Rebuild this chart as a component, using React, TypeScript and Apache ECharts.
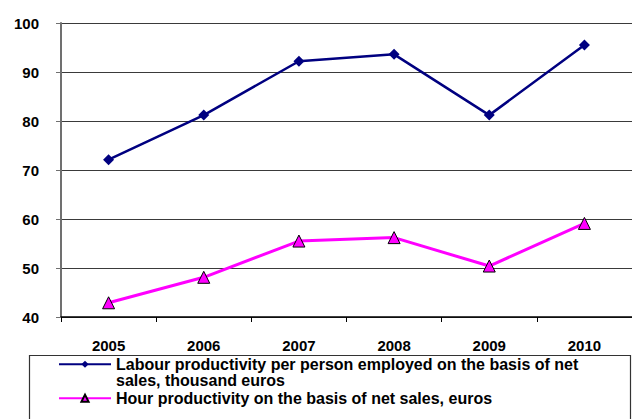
import React, { useEffect, useRef } from "react";
import * as echarts from "echarts";

const years = ["2005", "2006", "2007", "2008", "2009", "2010"];
const labour = [72.1, 81.2, 92.2, 93.6, 81.2, 95.5];
const hour = [42.9, 48.1, 55.5, 56.2, 50.4, 59.1];
const yTicks = { min: 40, max: 100, interval: 10 };
const labourName = "Labour productivity per person employed on the basis of net sales, thousand euros";
const hourName = "Hour productivity on the basis of net sales, euros";

const FONT = "Arial, 'Liberation Sans', sans-serif";

export default function App() {
  const ref = useRef<HTMLDivElement>(null);
  useEffect(() => {
    if (!ref.current) return;
    const chart = echarts.init(ref.current, null, { renderer: "svg" });
    chart.setOption({
      animation: false,
      backgroundColor: "#ffffff",
      grid: { left: 61, top: 23, width: 582, height: 294, containLabel: false },
      xAxis: {
        type: "category",
        data: years,
        boundaryGap: true,
        axisLine: { show: true, lineStyle: { color: "#000", width: 1.5 } },
        axisTick: { show: true, length: 5, lineStyle: { color: "#000" } },
        axisLabel: {
          margin: 22,
          color: "#000",
          fontFamily: FONT,
          fontWeight: "bold",
          fontSize: 15,
          lineHeight: 12,
        },
        splitLine: { show: false },
      },
      yAxis: {
        type: "value",
        min: yTicks.min,
        max: yTicks.max,
        interval: yTicks.interval,
        axisLine: { show: true, lineStyle: { color: "#707070", width: 2 } },
        axisTick: { show: true, length: 5, lineStyle: { color: "#707070" } },
        axisLabel: { margin: 22, color: "#000", fontFamily: FONT, fontWeight: "bold", fontSize: 15 },
        splitLine: { show: true, lineStyle: { color: "#3a3a3a", width: 1 } },
      },
      legend: [
        {
          data: [labourName],
          left: 58,
          top: 339.5,
          padding: 0,
          itemWidth: 52,
          itemHeight: 9,
          itemGap: 5,
          formatter: () => "\nLabour productivity per person employed on the basis of net\nsales, thousand euros",
          textStyle: { color: "#000", fontFamily: FONT, fontWeight: "bold", fontSize: 16, lineHeight: 16.5 },
        },
        {
          data: [hourName],
          left: 58,
          top: 390,
          padding: 0,
          itemWidth: 52,
          itemHeight: 9,
          textStyle: { color: "#000", fontFamily: FONT, fontWeight: "bold", fontSize: 16, lineHeight: 16.5 },
        },
      ],
      graphic: [
        {
          type: "rect",
          left: 27,
          top: 353,
          shape: { width: 601, height: 120 },
          style: { fill: "none", stroke: "#333", lineWidth: 1.2 },
          z: -1,
        },
      ],
      series: [
        {
          name: labourName,
          type: "line",
          data: labour,
          symbol: "diamond",
          symbolSize: 11,
          lineStyle: { color: "#000080", width: 2.5 },
          itemStyle: { color: "#000080" },
        },
        {
          name: hourName,
          type: "line",
          data: hour,
          symbol: "triangle",
          symbolSize: 12,
          lineStyle: { color: "#ff00ff", width: 3 },
          itemStyle: { color: "#ff00ff", borderColor: "#000", borderWidth: 1 },
        },
      ],
    });
    return () => chart.dispose();
  }, []);
  return (
    <div
      ref={ref}
      style={{ position: "fixed", left: 0, top: 0, width: 632, height: 419, background: "#fff" }}
    />
  );
}
